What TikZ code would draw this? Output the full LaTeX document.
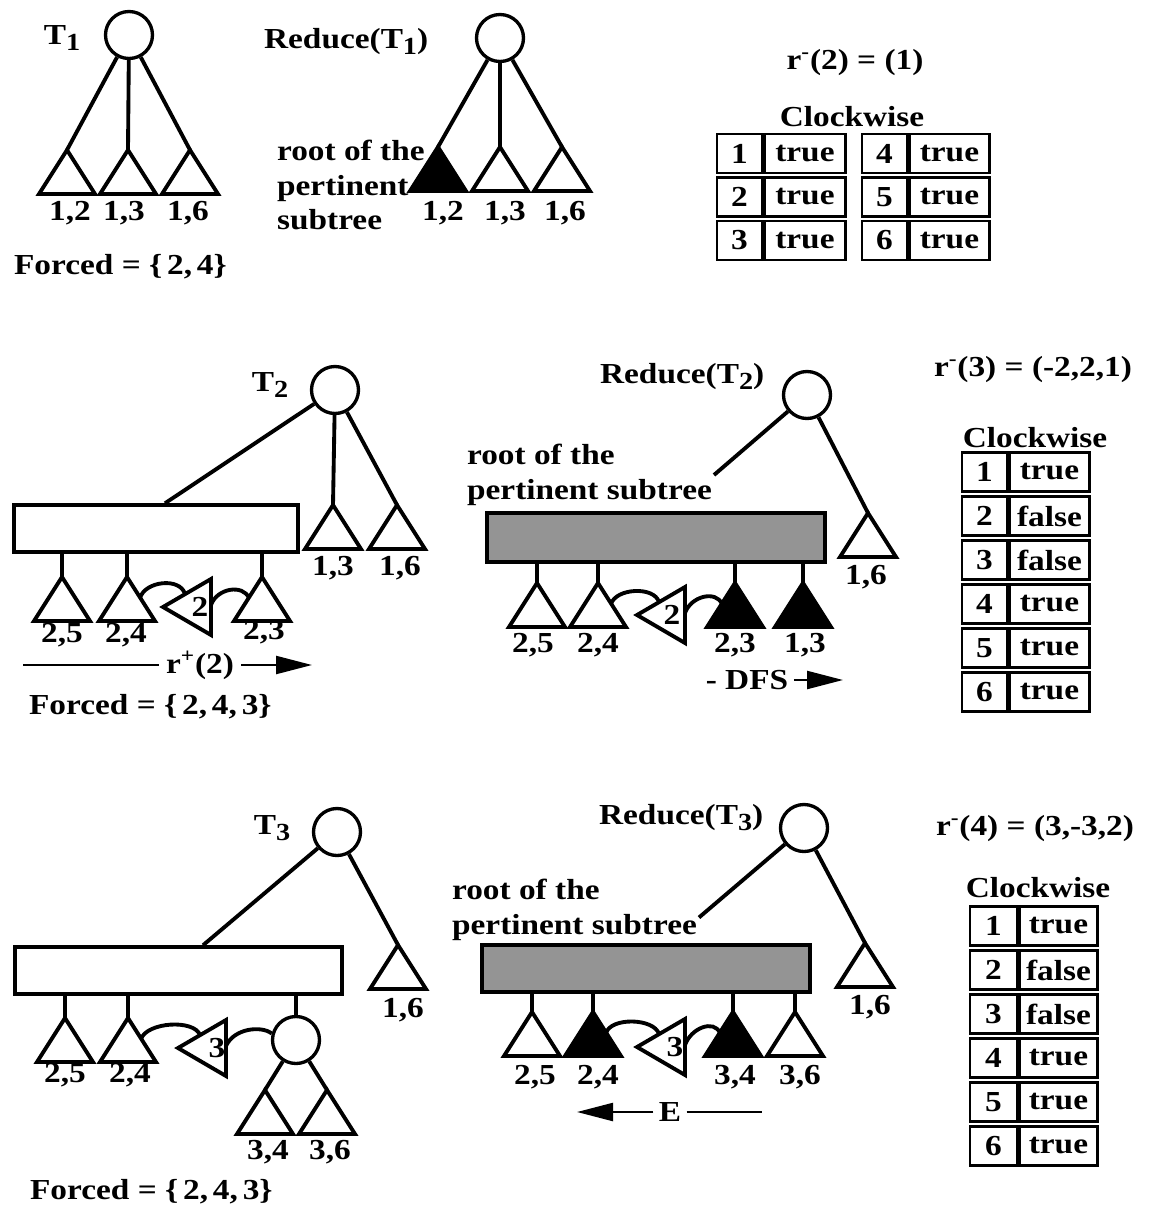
\documentclass[tikz,border=0pt]{standalone}
\usepackage{fontspec}
\setmainfont{Liberation Serif}[FakeStretch=1.15]
\usetikzlibrary{arrows.meta,calc}
\newcommand{\lowidx}[1]{\raisebox{-0.4ex}{\fontsize{14}{14}\selectfont #1}}
\newcommand{\lbl}{\bfseries\fontsize{16.5}{19.9}\selectfont}
\tikzset{>=Stealth,every node/.style={font=\lbl,inner sep=1pt},edge/.style={line width=2.2pt},
  root/.style={draw,circle,line width=1.9pt,minimum size=0.94cm,inner sep=0pt},
  pnode/.style={draw,line width=2pt,inner sep=0pt},shaded/.style={pnode,fill=black!42},
  cell/.style={draw,line width=1.4pt,minimum height=0.78cm,inner sep=0pt},
  flow/.style={line width=1.3pt,-{Triangle[length=0.72cm,width=0.36cm]}},
  pics/subtr/.style={code={\draw[edge,fill=#1] (0,0) coordinate (-top) -- (-28,44) -- (28,44) -- cycle;
    \coordinate (-l) at (-13,21);\coordinate (-r) at (13,21);}},pics/subtr/.default=white,
  pics/ptr/.style={code={\draw[edge] (0,0) coordinate (-tip) -- (48,-28) -- (48,28) -- cycle;
    \coordinate (-ul) at (22,-13);\coordinate (-e) at (48,-2);}}}
\begin{document}
\begin{tikzpicture}[x=0.02cm,y=-0.02cm]
\useasboundingbox (0,0) rectangle (1151,1207);
% T1
\node[root] (r1) at (129,35){};\node (t1) at (62,38){T\lowidx{1}};
\pic (a12) at (67,150){subtr};\pic (a13) at (128,150){subtr};\pic (a16) at (190,150){subtr};
\draw[edge] (r1)--(a12-top);\draw[edge] (r1)--(a13-top);\draw[edge] (r1)--(a16-top);
\node (la12) at (70,213){1,2};\node (la13) at (124,213){1,3};\node (la16) at (188,213){1,6};
\node[anchor=west] (f1) at (12,267){Forced = \{\,2,\,4\}};
% Reduce(T1)
\node[root] (r1r) at (500,38){};\node[anchor=west] (red1) at (262,42){Reduce(T\lowidx{1})};
\pic (b12) at (438,147){subtr=black};\pic (b13) at (500,147){subtr};\pic (b16) at (562,147){subtr};
\draw[edge] (r1r)--(b12-top);\draw[edge] (r1r)--(b13-top);\draw[edge] (r1r)--(b16-top);
\node (lb12) at (443,213){1,2};\node (lb13) at (505,213){1,3};\node (lb16) at (565,213){1,6};
\node[anchor=west,align=left] (rt1) at (275,185){root of the\\pertinent\\subtree};
% table 1
\node (rm2) at (855,63){r\textsuperscript{-}(2) = (1)};\node (cw1) at (852,117){Clockwise};
\foreach \n/\v [count=\i] in {1/true,2/true,3/true}{
  \node[cell,minimum width=0.9cm] (k1n\n) at (739.5,{110+43.5*\i}){\n};
  \node[cell,minimum width=1.62cm,anchor=west] (k1v\n) at (k1n\n.east){\v};}
\foreach \n/\v [count=\i] in {4/true,5/true,6/true}{
  \node[cell,minimum width=0.9cm] (k1n\n) at (884.5,{110+43.5*\i}){\n};
  \node[cell,minimum width=1.6cm,anchor=west] (k1v\n) at (k1n\n.east){\v};}
% T2
\node[root] (r2) at (335,390){};\node (t2) at (270,385){T\lowidx{2}};
\node[pnode,minimum width=5.68cm,minimum height=0.94cm] (pn2) at (156,528.5){};
\draw[edge] (r2)--([xshift=0.18cm]pn2.north);
\pic (c13) at (333,505){subtr};\pic (c16) at (397,505){subtr};
\draw[edge] (r2)--(c13-top);\draw[edge] (r2)--(c16-top);
\node (lc13) at (333,568){1,3};\node (lc16) at (400,568){1,6};
\pic (c25) at (62,577){subtr};\pic (c24) at (127,577){subtr};\pic (c23) at (262,577){subtr};
\foreach \s in {c25,c24,c23}\draw[edge] (\s-top)--(\s-top |- pn2.south);
\node (lc25) at (62,635){2,5};\node (lc24) at (126,635){2,4};\node (lc23) at (264,632){2,3};
\pic (q2) at (163,607){ptr};\node (n2) at (200,607){2};
\draw[edge] (c24-r) .. controls +(5,-17) and +(-5,-17) .. (q2-ul);
\draw[edge] (q2-e) .. controls +(6,-17) and +(-6,-14) .. (c23-l);
\coordinate (rpa) at (23,665);\node[inner sep=4pt] (rp2) at (200,665){r\textsuperscript{+}(2)};\coordinate (rpb) at (312,665);
\draw[line width=1.3pt] (rp2)--(rpa);\draw[flow] (rp2)--(rpb);
\node[anchor=west] (f2) at (27,707){Forced = \{\,2,\,4,\,3\}};
% Reduce(T2)
\node[root] (r2r) at (807,395){};\node[anchor=west] (red2) at (598,377){Reduce(T\lowidx{2})};
\node[anchor=west,align=left] (rt2) at (465,475){root of the\\pertinent subtree};
\draw[edge] (r2r)--(rt2.east);
\node[shaded,minimum width=6.76cm,minimum height=0.98cm] (pr2) at (656,537.5){};
\pic (d16) at (868,513){subtr};\draw[edge] (r2r)--(d16-top);\node (ld16) at (866,577){1,6};
\pic (d25) at (537,583){subtr};\pic (d24) at (598,583){subtr};\pic (d23) at (735,583){subtr=black};\pic (d13) at (803,583){subtr=black};
\foreach \s in {d25,d24,d23,d13}\draw[edge] (\s-top)--(\s-top |- pr2.south);
\node (ld25) at (533,645){2,5};\node (ld24) at (598,645){2,4};\node (ld23) at (735,645){2,3};\node (ld13) at (805,645){1,3};
\pic (q2r) at (637,615){ptr};\node (n2r) at (672,615){2};
\draw[edge] (d24-r) .. controls +(5,-16) and +(-5,-16) .. (q2r-ul);
\draw[edge] (q2r-e) .. controls +(6,-17) and +(-6,-14) .. (d23-l);
\node[inner sep=3pt] (dfs) at (747,680){- DFS};\coordinate (dfsb) at (843,680);\draw[flow] (dfs)--(dfsb);
% table 2
\node (rm3) at (1033,370){r\textsuperscript{-}(3) = (-2,2,1)};\node (cw2) at (1035,438){Clockwise};
\foreach \n/\v [count=\i] in {1/true,2/false,3/false,4/true,5/true,6/true}{
  \node[cell,minimum width=0.9cm] (k2n\n) at (984.5,{428+44*\i}){\n};
  \node[cell,minimum width=1.6cm,anchor=west] (k2v\n) at (k2n\n.east){\v};}
% T3
\node[root] (r3) at (337,832){};\node (t3) at (272,828){T\lowidx{3}};
\node[pnode,minimum width=6.54cm,minimum height=0.94cm] (pn3) at (178.5,970.5){};
\draw[edge] (r3)--([xshift=0.49cm]pn3.north);
\pic (e16) at (398,945){subtr};\draw[edge] (r3)--(e16-top);\node (le16) at (403,1010){1,6};
\pic (e25) at (65,1018){subtr};\pic (e24) at (128,1018){subtr};
\foreach \s in {e25,e24}\draw[edge] (\s-top)--(\s-top |- pn3.south);
\node[root] (p3) at (296,1040){};\draw[edge] (p3)--(p3 |- pn3.south);
\pic (e34) at (265,1090){subtr};\pic (e36) at (327,1090){subtr};
\draw[edge] (p3)--(e34-top);\draw[edge] (p3)--(e36-top);
\node (le25) at (65,1075){2,5};\node (le24) at (130,1075){2,4};\node (le34) at (268,1152){3,4};\node (le36) at (330,1152){3,6};
\pic (q3) at (178,1048){ptr};\node (n3) at (217,1048){3};
\draw[edge] (e24-r) .. controls +(6,-17) and +(-6,-16) .. (q3-ul);
\draw[edge] (q3-e) .. controls +(8,-18) and +(-10,-8) .. (p3.165);
\node[anchor=west] (f3) at (28,1192){Forced = \{\,2,\,4,\,3\}};
% Reduce(T3)
\node[root] (r3r) at (804,828){};\node[anchor=west] (red3) at (597,818){Reduce(T\lowidx{3})};
\node[anchor=west,align=left] (rt3) at (450,910){root of the\\pertinent subtree};
\draw[edge] (r3r)--([yshift=-0.15cm]rt3.east);
\node[shaded,minimum width=6.56cm,minimum height=0.94cm] (pr3) at (646,968.5){};
\pic (g16) at (865,943){subtr};\draw[edge] (r3r)--(g16-top);\node (lg16) at (870,1007){1,6};
\pic (g25) at (532,1012){subtr};\pic (g24) at (593,1012){subtr=black};\pic (g34) at (733,1012){subtr=black};\pic (g36) at (795,1012){subtr};
\foreach \s in {g25,g24,g34,g36}\draw[edge] (\s-top)--(\s-top |- pr3.south);
\node (lg25) at (535,1077){2,5};\node (lg24) at (598,1077){2,4};\node (lg34) at (735,1077){3,4};\node (lg36) at (800,1077){3,6};
\pic (q3r) at (637,1047){ptr};\node (n3r) at (675,1047){3};
\draw[edge] (g24-r) .. controls +(5,-16) and +(-5,-16) .. (q3r-ul);
\draw[edge] (q3r-e) .. controls +(6,-17) and +(-6,-14) .. (g34-l);
\node[inner sep=3pt] (ee) at (670,1112){E};\coordinate (eea) at (577,1112);\coordinate (eeb) at (762,1112);
\draw[flow] (ee)--(eea);\draw[line width=1.3pt] (ee)--(eeb);
% table 3
\node (rm4) at (1035,829){r\textsuperscript{-}(4) = (3,-3,2)};\node (cw3) at (1038,888){Clockwise};
\foreach \n/\v [count=\i] in {1/true,2/false,3/false,4/true,5/true,6/true}{
  \node[cell,minimum width=0.94cm] (k3n\n) at (993.5,{882+44*\i}){\n};
  \node[cell,minimum width=1.56cm,anchor=west] (k3v\n) at (k3n\n.east){\v};}
\end{tikzpicture}
\end{document}
